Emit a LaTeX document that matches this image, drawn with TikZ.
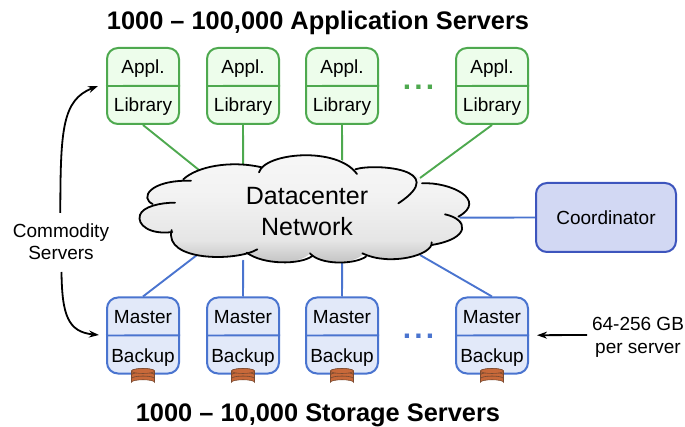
\documentclass[tikz,border=0pt]{standalone}
\usepackage{fontspec}
\setmainfont{Liberation Sans}
\usetikzlibrary{arrows.meta}
\definecolor{gline}{HTML}{4EA94F}
\definecolor{gfill}{HTML}{EDFDEB}
\definecolor{bline}{HTML}{4A74CF}
\definecolor{bfill}{HTML}{E2E9F9}
\definecolor{cline}{HTML}{3D55BD}
\definecolor{cfill}{HTML}{D2D8F3}
\definecolor{diskc}{HTML}{C8693A}
\definecolor{diskd}{HTML}{7A4A30}
\pgfdeclareverticalshading{cloudshade}{100bp}{color(0bp)=(black!26); color(25bp)=(black!26); color(36bp)=(black!10); color(55bp)=(black!5); color(75bp)=(black!3); color(100bp)=(black!3)}
\tikzset{
  srv/.style={draw, line width=2pt, rounded corners=11pt, minimum width=72pt, minimum height=76pt, inner sep=0pt},
  appbox/.style={srv, draw=gline, fill=gfill},
  storebox/.style={srv, draw=bline, fill=bfill},
  coordbox/.style={draw=cline, fill=cfill, line width=2pt, rounded corners=11pt, minimum width=140pt, minimum height=69pt, inner sep=0pt, font=\fontsize{19}{21}\selectfont},
  lbl/.style={font=\fontsize{19}{21}\selectfont, inner sep=0pt, anchor=base},
  note/.style={font=\fontsize{19}{24}\selectfont, inner sep=0pt, anchor=base},
  bigt/.style={font=\fontsize{25}{31}\selectfont, inner sep=0pt, anchor=base},
  ttl/.style={font=\bfseries\fontsize{25.4}{28}\selectfont, inner sep=0pt, anchor=base},
  glink/.style={draw=gline, line width=1.9pt},
  blink/.style={draw=bline, line width=1.9pt},
  blackarrow/.style={draw=black, line width=1.8pt, -{Stealth[length=10pt,width=7pt]}},
  cl/.style={draw=black, line width=1.8pt},
  dotsb/.style={font=\bfseries\fontsize{30}{30}\selectfont, inner sep=0pt, anchor=base},
}
\newcommand{\diskat}[2]{%
  \foreach \dy in {7.5,3.75,0}{
    \filldraw[fill=diskc, draw=diskd, line width=0.6pt]
      (#1-11.5,#2+\dy) -- (#1-11.5,#2+\dy+3.75) arc[x radius=11.5, y radius=2.5, start angle=180, end angle=360] -- (#1+11.5,#2+\dy)
      arc[x radius=11.5, y radius=2.5, start angle=0, end angle=-180] -- cycle;
  }
  \filldraw[fill=diskc, draw=diskd, line width=0.6pt] (#1,#2) ellipse[x radius=11.5, y radius=2.5];
}
\begin{document}
\begin{tikzpicture}[x=1pt,y=-1pt]
\useasboundingbox (0,0) rectangle (685,427);

% server boxes
\foreach \n/\cx in {1/143,2/243,3/342,4/492}{
  \node[appbox] (a\n) at (\cx,86) {};
  \node[storebox] (m\n) at (\cx,335.5) {};
}
\node[coordbox] (coord) at (606,217.5) {Coordinator};

% anchor points on the cloud
\coordinate (nt1) at (199,170);
\coordinate (nt2) at (243.2,170);
\coordinate (nt3) at (342.2,170);
\coordinate (nt4) at (420,178);
\coordinate (nb1) at (197,255);
\coordinate (nb2) at (243.2,260);
\coordinate (nb3) at (342.2,262);
\coordinate (nb4) at (420,255);
\coordinate (nr) at (455,217.7);

% connectors
\foreach \n in {1,2,3,4}{
  \draw[glink] (a\n.south) -- (nt\n);
  \draw[blink] (m\n.north) -- (nb\n);
}
\draw[blink] (coord.west) -- (nr);

% cloud
\begin{scope}[shift={(130,150)}, x=0.33333pt, y=-0.33333pt]
\shade[shading=cloudshade]
  (68,165) .. controls (35,145) and (55,95) .. (160,88)
  .. controls (200,50) and (300,30) .. (390,52)
  .. controls (420,8) and (620,-8) .. (676,58)
  .. controls (730,40) and (870,50) .. (876,100)
  .. controls (960,95) and (1050,150) .. (1005,180)
  .. controls (1000,190) and (995,195) .. (985,200)
  .. controls (1015,225) and (1000,265) .. (905,285)
  .. controls (905,310) and (790,350) .. (700,312)
  .. controls (670,345) and (570,345) .. (540,310)
  .. controls (510,345) and (400,345) .. (350,308)
  .. controls (320,330) and (130,340) .. (122,246)
  .. controls (60,255) and (20,225) .. (30,195)
  .. controls (35,180) and (50,170) .. (68,165) -- cycle;
\draw[cl, line cap=round] (68,162) .. controls (30,145) and (55,90) .. (183,92);
\draw[cl, line cap=round] (160,88) .. controls (200,50) and (300,30) .. (395,52);
\draw[cl, line cap=round] (387,67) .. controls (405,8) and (620,-12) .. (681,72);
\draw[cl, line cap=round] (676,58) .. controls (730,40) and (965,55) .. (805,160);
\draw[cl, line cap=round] (876,100) .. controls (960,95) and (1075,150) .. (985,200);
\draw[cl, line cap=round] (945,193) .. controls (1015,208) and (1025,265) .. (905,285);
\draw[cl, line cap=round] (905,277) .. controls (910,315) and (780,350) .. (697,310);
\draw[cl, line cap=round] (708,320) .. controls (670,345) and (570,345) .. (540,310);
\draw[cl, line cap=round] (547,318) .. controls (510,345) and (400,345) .. (350,308);
\draw[cl, line cap=round] (382,298) .. controls (320,335) and (100,335) .. (125,240);
\draw[cl, line cap=round] (127,246) .. controls (60,255) and (20,225) .. (30,195) .. controls (38,170) and (90,158) .. (135,158);
\end{scope}
\node[bigt] (net1) at (307,204.5) {Datacenter};
\node[bigt] (net2) at (307,235.5) {Network};

% dividers and labels
\foreach \n/\cx in {1/143,2/243,3/342,4/492}{
  \draw[gline, line width=1.9pt] (a\n.west) -- ([yshift=0.2pt]a\n.east);
  \draw[bline, line width=1.9pt] (m\n.west) -- ([yshift=0.2pt]m\n.east);
  \node[lbl] (ap\n) at (\cx,74) {Appl.};
  \node[lbl] (li\n) at (\cx,112) {Library};
  \node[lbl] (ma\n) at (\cx,324) {Master};
  \node[lbl] (ba\n) at (\cx,362.4) {Backup};
  \diskat{\cx}{371}
}

% dots
\node[dotsb, text=gline] (dg) at (418.5,89.5) {.\kern3.2pt.\kern3.2pt.};
\node[dotsb, text=bline] (db) at (418.5,339) {.\kern3.2pt.\kern3.2pt.};

% titles
\node[ttl] (t1) at (318,29.3) {1000 – 100,000 Application Servers};
\node[ttl] (t2) at (318,421.3) {1000 – 10,000 Storage Servers};

% notes and arrows
\node[note] (comm1) at (61,237.5) {Commodity};
\node[note] (comm2) at (61,259.5) {Servers};
\node[note] (gb1) at (638,330.5) {64-256 GB};
\node[note] (gb2) at (638,354) {per server};
\coordinate (ca) at (98,86);
\coordinate (cb) at (99,335);
\draw[blackarrow] (60.3,213) .. controls (60.5,130) and (62,100) .. (ca);
\draw[blackarrow] (61.5,272) .. controls (62,315) and (68,332) .. (cb);
\coordinate (gbs) at (587,335);
\coordinate (gbe) at (537,335.2);
\draw[blackarrow] (gbs) -- (gbe);
\end{tikzpicture}
\end{document}
